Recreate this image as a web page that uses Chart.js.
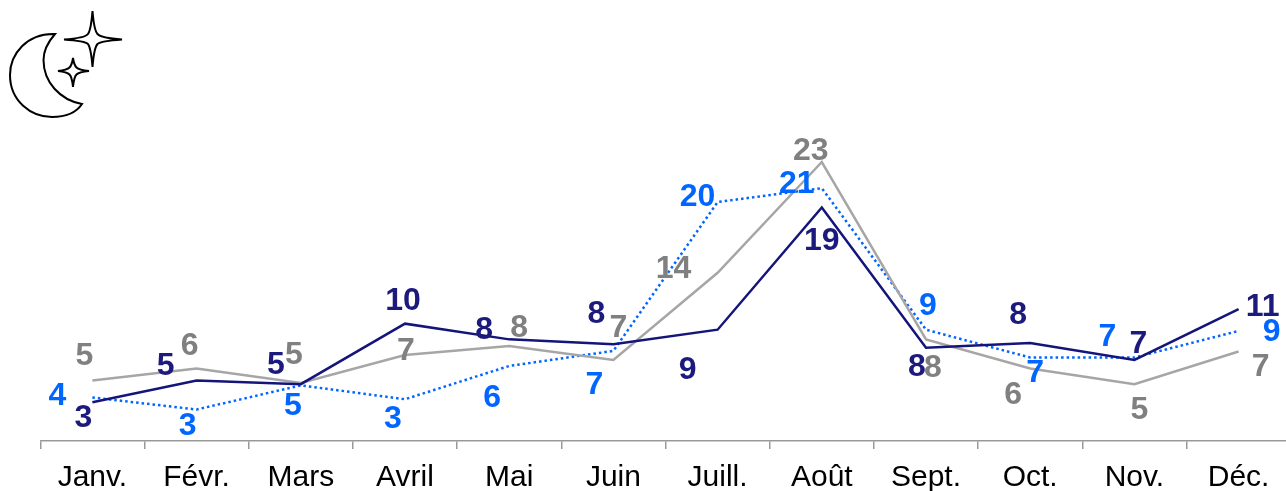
<!DOCTYPE html>
<html lang="fr">
<head>
<meta charset="utf-8">
<title>Nuit</title>
<script src="https://cdn.jsdelivr.net/npm/chart.js@4/dist/chart.umd.min.js"></script>
<style>
html,body{margin:0;padding:0;width:1286px;height:491px;overflow:hidden;background:#fff}
#wrap{position:relative;width:1286px;height:491px;overflow:hidden}
canvas{position:absolute;left:0;top:0}
#icon{position:absolute;left:0;top:0}
</style>
</head>
<body>
<div id="wrap">
<canvas id="c" width="1296" height="491" style="width:1296px;height:491px"></canvas>
<svg id="icon" width="130" height="125" viewBox="0 0 130 125" fill="#fff" stroke="#000" stroke-width="2" stroke-linejoin="miter">
<path d="M55 34 C27 33 10 54 10 75 C10 101 31 117 52 117 C65 117 76 113 82 104 C60 100 43.5 82 43.5 60 C43.5 50 48 42 55 34 Z"/>
<path d="M92.5 11 Q94 30 97.5 34 Q101 38 122 39.5 Q101 41 97.5 44 Q94 48 92.5 67 Q91 48 88 44 Q85 41 64 39.5 Q85 38 88 34 Q91 30 92.5 11 Z"/>
<path d="M73 58 Q74 65 76.5 67.5 Q79 70 89 71 Q79 72 76.5 74.5 Q74 77 73 87 Q72 77 69.5 74.5 Q67 72 58 71 Q67 70 69.5 67.5 Q72 65 73 58 Z"/>
</svg>
</div>
<script>
const months = ["Janv.","Févr.","Mars","Avril","Mai","Juin","Juill.","Août","Sept.","Oct.","Nov.","Déc."];
const navyValues = [3.2,5.0,4.7,9.7,8.4,8.0,9.2,19.3,7.7,8.1,6.7,10.9];
const grayValues = [5.0,6.0,4.8,7.1,7.85,6.7,13.9,23.06,8.4,6.0,4.7,7.4];
const blueValues = [3.6,2.6,4.6,3.45,6.2,7.45,19.75,20.9,9.2,6.9,6.9,9.1];

/* label placement relative to each point, in pixels */
const navyNudge = [[-9,16],[-31,-14],[-25,-19],[-2,-22],[-25,-9],[-17,-30],[-30,40],[0,34],[-9,19],[-12,-28],[4,-16],[24,-2]];
const grayNudge = [[-8,-24],[-7,-22],[-7,-28],[1,-4],[10,-18],[5,-32],[-44,-4],[-11,-11],[7,29],[-17,27],[5,26],[22,16]];
const blueNudge = [[-35,-1],[-9,17],[-8,21],[-12,20],[-17,32],[-19,34],[-20,-5],[-25,-4],[2,-24],[5,16],[-27,-20],[33,1]];

const FONT = '"Liberation Sans", Arial, sans-serif';

const pointLabels = {
  id: 'pointLabels',
  afterDatasetsDraw(chart) {
    const ctx = chart.ctx;
    ctx.save();
    ctx.font = 'bold 32px ' + FONT;
    ctx.textAlign = 'center';
    ctx.textBaseline = 'middle';
    chart.data.datasets.forEach((ds, i) => {
      const meta = chart.getDatasetMeta(i);
      ctx.fillStyle = ds.labelColor;
      meta.data.forEach((pt, j) => {
        ctx.fillText(String(Math.round(ds.data[j])), pt.x + ds.nudge[j][0], pt.y + ds.nudge[j][1]);
      });
    });
    ctx.restore();
  }
};

new Chart(document.getElementById('c'), {
  type: 'line',
  data: {
    labels: months,
    datasets: [
      { label: 'Série 1', data: navyValues, borderColor: '#14147A', labelColor: '#1C1A7C', borderWidth: 2.5, nudge: navyNudge },
      { label: 'Série 2', data: grayValues, borderColor: '#A6A6A6', labelColor: '#808080', borderWidth: 2.5, nudge: grayNudge },
      { label: 'Série 3', data: blueValues, borderColor: '#0066FF', labelColor: '#0066FF', borderWidth: 2.5, borderDash: [2.5,3], nudge: blueNudge }
    ]
  },
  options: {
    responsive: false,
    animation: false,
    layout: { padding: { left: 40.3, right: 5.3, top: 0, bottom: 0 } },
    elements: { line: { tension: 0 }, point: { radius: 0 } },
    plugins: { legend: { display: false }, tooltip: { enabled: false } },
    scales: {
      x: {
        offset: true,
        afterFit(s) { s.height = 50; },
        border: { color: '#999999', width: 1.5 },
        grid: { offset: true, drawOnChartArea: false, drawTicks: true, tickLength: 8, color: '#999999', lineWidth: 1.5 },
        ticks: { color: '#000', font: { family: FONT, size: 30 }, padding: 11, maxRotation: 0, autoSkip: false }
      },
      y: { display: false, min: 0, max: 36.45 }
    }
  },
  plugins: [pointLabels]
});
</script>
</body>
</html>
